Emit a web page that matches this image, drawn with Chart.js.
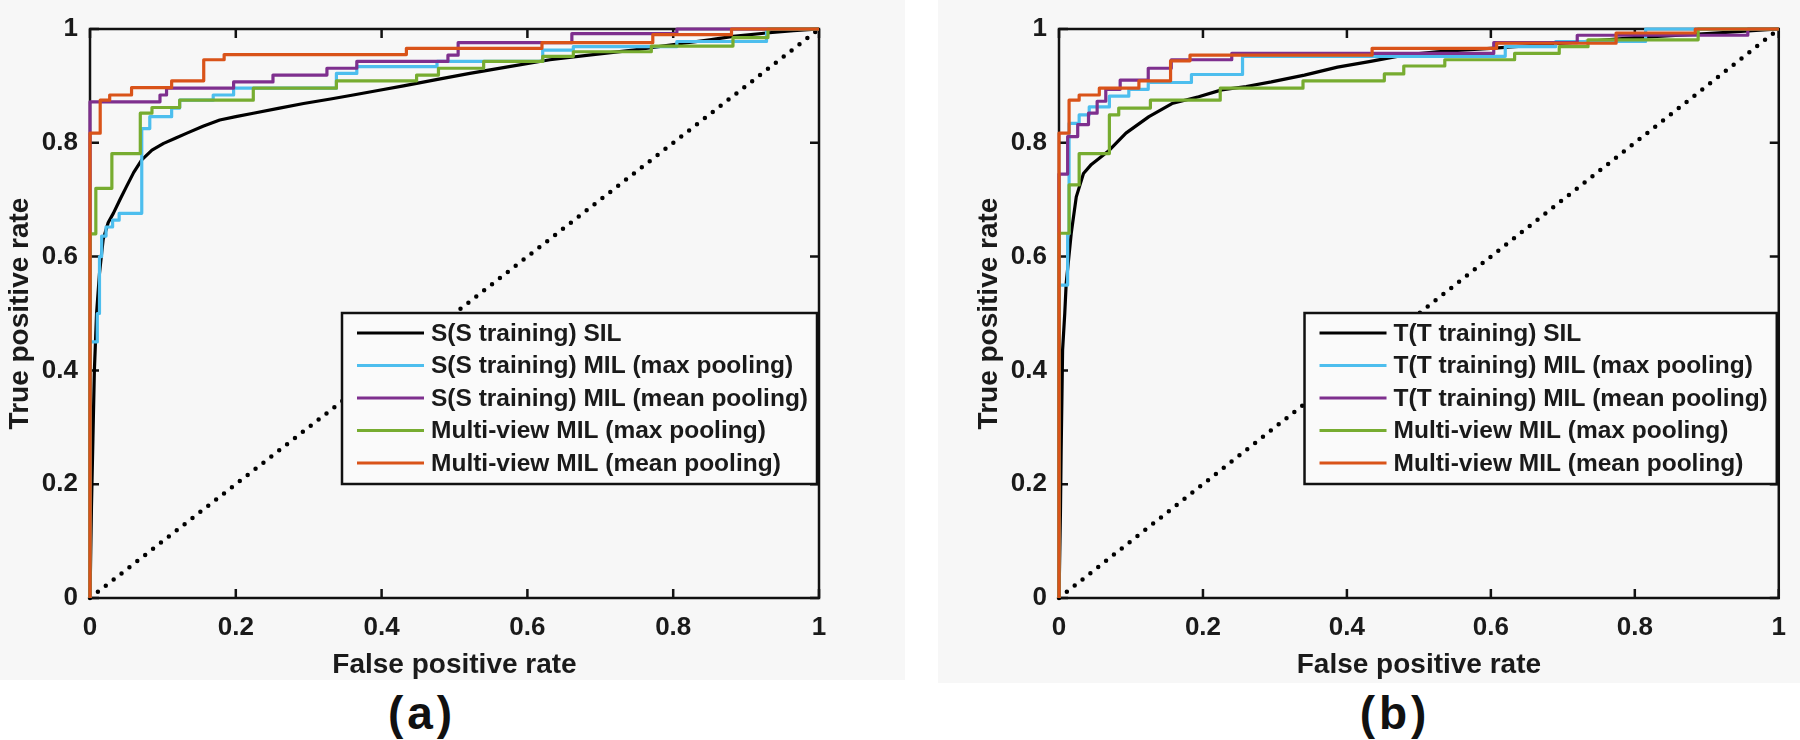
<!DOCTYPE html>
<html>
<head>
<meta charset="utf-8">
<title>ROC curves (a) and (b)</title>
<script src="https://cdn.jsdelivr.net/npm/chart.js@4.4.1/dist/chart.umd.min.js"></script>
<style>
  body { margin: 0; width: 1800px; height: 740px; background: #fff; position: relative; overflow: hidden; font-family: 'Liberation Sans', Arial, sans-serif; }
  .panel { position: absolute; top: 0; background: #f7f7f7; }
  .panel canvas { display: block; }
  #panelA { left: 0; width: 905px; height: 680px; }
  #panelB { left: 938px; width: 862px; height: 683px; }
  .caption { position: absolute; top: 689px; width: 200px; text-align: center; font-weight: bold; font-size: 46px; letter-spacing: 4px; line-height: 48px; color: #111; }
</style>
</head>
<body>
<div class="panel" id="panelA"><canvas id="rocA" width="905" height="680"></canvas></div>
<div class="panel" id="panelB"><canvas id="rocB" width="862" height="683"></canvas></div>
<div class="caption" style="left:322px">(a)</div>
<div class="caption" style="left:1295px">(b)</div>
<script>
const tickValues = [0, 0.2, 0.4, 0.6, 0.8, 1];
const chanceLine = [0, 1];

const labelsA = ['S(S training) SIL', 'S(S training) MIL (max pooling)', 'S(S training) MIL (mean pooling)', 'Multi-view MIL (max pooling)', 'Multi-view MIL (mean pooling)'];
const labelsB = ['T(T training) SIL', 'T(T training) MIL (max pooling)', 'T(T training) MIL (mean pooling)', 'Multi-view MIL (max pooling)', 'Multi-view MIL (mean pooling)'];

// (a) - false positive rate / true positive rate
const silFprA = [0, 0.002, 0.004, 0.006, 0.009, 0.013, 0.018, 0.025, 0.032, 0.041, 0.050, 0.060, 0.071, 0.085, 0.101, 0.117, 0.133, 0.155, 0.178, 0.200, 0.224, 0.260, 0.293, 0.330, 0.361, 0.395, 0.430, 0.475, 0.521, 0.575, 0.631, 0.690, 0.745, 0.780, 0.814, 0.850, 0.882, 0.928, 0.965, 1];
const silTprA = [0, 0.16, 0.28, 0.40, 0.50, 0.57, 0.63, 0.66, 0.676, 0.70, 0.723, 0.748, 0.770, 0.787, 0.799, 0.808, 0.817, 0.829, 0.840, 0.846, 0.852, 0.861, 0.869, 0.877, 0.884, 0.892, 0.900, 0.911, 0.922, 0.934, 0.946, 0.955, 0.963, 0.969, 0.975, 0.981, 0.987, 0.993, 0.997, 1];
const maxFprA = [0, 0, 0.010, 0.013, 0.016, 0.022, 0.031, 0.040, 0.071, 0.082, 0.112, 0.123, 0.169, 0.197, 0.338, 0.366, 0.476, 0.621, 0.663, 0.805, 0.928, 1];
const maxTprA = [0, 0.45, 0.50, 0.60, 0.636, 0.652, 0.664, 0.676, 0.825, 0.846, 0.861, 0.875, 0.884, 0.896, 0.922, 0.934, 0.943, 0.963, 0.969, 0.978, 1, 1];
const meanFprA = [0, 0, 0.096, 0.105, 0.197, 0.251, 0.325, 0.366, 0.491, 0.505, 0.661, 0.805, 1];
const meanTprA = [0, 0.872, 0.884, 0.896, 0.907, 0.919, 0.931, 0.943, 0.954, 0.976, 0.992, 1, 1];
const mvMaxFprA = [0, 0, 0.008, 0.030, 0.069, 0.085, 0.123, 0.224, 0.338, 0.448, 0.478, 0.540, 0.621, 0.663, 0.770, 0.882, 0.930, 1];
const mvMaxTprA = [0, 0.64, 0.72, 0.781, 0.852, 0.862, 0.875, 0.896, 0.909, 0.919, 0.931, 0.943, 0.952, 0.960, 0.970, 0.985, 1, 1];
const mvMeanFprA = [0, 0, 0.014, 0.027, 0.057, 0.112, 0.156, 0.184, 0.434, 0.620, 0.772, 0.880, 1];
const mvMeanTprA = [0, 0.817, 0.875, 0.884, 0.897, 0.909, 0.946, 0.955, 0.966, 0.976, 0.990, 1, 1];

// (b)
const silFprB = [0, 0.002, 0.003, 0.005, 0.008, 0.010, 0.017, 0.024, 0.034, 0.045, 0.056, 0.070, 0.093, 0.125, 0.157, 0.194, 0.226, 0.260, 0.295, 0.341, 0.387, 0.433, 0.479, 0.525, 0.600, 0.700, 0.800, 0.900, 1];
const silTprB = [0, 0.15, 0.26, 0.436, 0.50, 0.553, 0.641, 0.705, 0.746, 0.762, 0.773, 0.787, 0.817, 0.846, 0.869, 0.881, 0.893, 0.899, 0.907, 0.919, 0.933, 0.943, 0.954, 0.960, 0.966, 0.975, 0.985, 0.992, 1];
const maxFprB = [0, 0, 0.012, 0.014, 0.028, 0.042, 0.070, 0.097, 0.124, 0.184, 0.255, 0.620, 0.690, 0.815, 1];
const maxTprB = [0, 0.55, 0.64, 0.834, 0.849, 0.863, 0.882, 0.894, 0.906, 0.920, 0.952, 0.969, 0.978, 1, 1];
const meanFprB = [0, 0, 0.012, 0.026, 0.041, 0.053, 0.065, 0.085, 0.124, 0.156, 0.240, 0.604, 0.720, 0.957, 1];
const meanTprB = [0, 0.745, 0.811, 0.832, 0.852, 0.873, 0.894, 0.910, 0.931, 0.946, 0.957, 0.976, 0.989, 1, 1];
const mvMaxFprB = [0, 0, 0.014, 0.028, 0.070, 0.083, 0.127, 0.224, 0.339, 0.452, 0.479, 0.536, 0.633, 0.695, 0.735, 0.888, 1];
const mvMaxTprB = [0, 0.641, 0.726, 0.781, 0.849, 0.861, 0.875, 0.896, 0.909, 0.921, 0.935, 0.946, 0.957, 0.969, 0.981, 1, 1];
const mvMeanFprB = [0, 0, 0.014, 0.028, 0.056, 0.111, 0.155, 0.182, 0.435, 0.608, 0.774, 0.884, 1];
const mvMeanTprB = [0, 0.817, 0.875, 0.884, 0.896, 0.909, 0.944, 0.954, 0.966, 0.975, 0.993, 1, 1];

const colors = ['#000000', '#4DBEEE', '#7E2F8E', '#77AC30', '#D95319'];
const textColor = '#1a1a1a';
const fontFamily = "'Liberation Sans', Arial, sans-serif";

function toPoints(xs, ys) {
  return xs.map((x, i) => ({ x: x, y: ys[i] }));
}

// matlab style box with inward ticks on all four sides
const frame = {
  id: 'frame',
  beforeDatasetsDraw(chart) {
    const { ctx, chartArea: a, scales: { x, y } } = chart;
    ctx.save();
    ctx.strokeStyle = '#111';
    ctx.lineWidth = 2.5;
    ctx.strokeRect(a.left, a.top, a.width, a.height);
    ctx.beginPath();
    tickValues.forEach(v => {
      const px = x.getPixelForValue(v);
      const py = y.getPixelForValue(v);
      ctx.moveTo(px, a.bottom); ctx.lineTo(px, a.bottom - 9);
      ctx.moveTo(px, a.top); ctx.lineTo(px, a.top + 9);
      ctx.moveTo(a.left, py); ctx.lineTo(a.left + 9, py);
      ctx.moveTo(a.right, py); ctx.lineTo(a.right - 9, py);
    });
    ctx.stroke();
    ctx.restore();
  }
};

// legend inside the plot, lower right, like matlab's
const boxLegend = {
  id: 'boxLegend',
  afterDatasetsDraw(chart) {
    const { ctx, chartArea: a } = chart;
    const items = chart.data.datasets.filter(d => d.label !== 'chance');
    ctx.save();
    ctx.font = 'bold 24.5px ' + fontFamily;
    const textW = Math.max(...items.map(d => ctx.measureText(d.label).width));
    const w = 89 + textW + 9, h = 171;
    const left = a.right - 2 - w, top = a.top + 284;
    ctx.fillStyle = '#fafafa';
    ctx.fillRect(left, top, w, h);
    ctx.strokeStyle = '#111';
    ctx.lineWidth = 2.5;
    ctx.strokeRect(left, top, w, h);
    items.forEach((d, i) => {
      const yy = top + 20 + i * 32.5;
      ctx.strokeStyle = d.borderColor;
      ctx.lineWidth = 3;
      ctx.beginPath();
      ctx.moveTo(left + 15, yy);
      ctx.lineTo(left + 82, yy);
      ctx.stroke();
      ctx.fillStyle = textColor;
      ctx.textBaseline = 'middle';
      ctx.fillText(d.label, left + 89, yy + 1);
    });
    ctx.restore();
  }
};

function makeChart(id, labels, curves, pad) {
  const datasets = curves.map((c, i) => ({
    label: labels[i],
    data: toPoints(c[0], c[1]),
    borderColor: colors[i],
    borderWidth: 3.2,
    showLine: true,
    stepped: i === 0 ? false : 'before',
    borderJoinStyle: 'round',
    clip: false,
    order: curves.length - i
  }));
  datasets.push({
    label: 'chance',
    data: toPoints(chanceLine, chanceLine),
    borderColor: '#000',
    borderWidth: 4.5,
    borderDash: [0, 10],
    borderCapStyle: 'round',
    showLine: true,
    clip: false,
    order: 10
  });

  return new Chart(document.getElementById(id), {
    type: 'scatter',
    data: { datasets: datasets },
    options: {
      responsive: false,
      animation: false,
      events: [],
      elements: { point: { radius: 0 }, line: { tension: 0 } },
      layout: { padding: pad },
      plugins: { legend: { display: false }, tooltip: { enabled: false } },
      scales: {
        x: {
          type: 'linear', min: 0, max: 1,
          afterBuildTicks: s => { s.ticks = tickValues.map(v => ({ value: v })); },
          afterFit: s => { s.height = 82; },
          grid: { display: false, drawTicks: false },
          border: { display: false },
          ticks: { color: textColor, font: { family: fontFamily, size: 26, weight: 'bold' }, padding: 14, maxRotation: 0, callback: v => String(v) },
          title: { display: true, text: 'False positive rate', color: textColor, font: { family: fontFamily, size: 28, weight: 'bold', lineHeight: 1 }, padding: { top: 0, bottom: 1 } }
        },
        y: {
          type: 'linear', min: 0, max: 1,
          afterBuildTicks: s => { s.ticks = tickValues.map(v => ({ value: v })); },
          afterFit: s => { s.width = 90; },
          grid: { display: false, drawTicks: false },
          border: { display: false },
          ticks: { color: textColor, font: { family: fontFamily, size: 26, weight: 'bold' }, padding: 12, callback: v => String(v) },
          title: { display: true, text: 'True positive rate', color: textColor, font: { family: fontFamily, size: 28, weight: 'bold', lineHeight: 1 }, padding: { top: 6, bottom: 0 } }
        }
      }
    },
    plugins: [frame, boxLegend]
  });
}

makeChart('rocA', labelsA, [
  [silFprA, silTprA], [maxFprA, maxTprA], [meanFprA, meanTprA], [mvMaxFprA, mvMaxTprA], [mvMeanFprA, mvMeanTprA]
], { left: 0, top: 29, right: 86, bottom: 0 });

makeChart('rocB', labelsB, [
  [silFprB, silTprB], [maxFprB, maxTprB], [meanFprB, meanTprB], [mvMaxFprB, mvMaxTprB], [mvMeanFprB, mvMeanTprB]
], { left: 31, top: 29, right: 16, bottom: 3 });
</script>
</body>
</html>
